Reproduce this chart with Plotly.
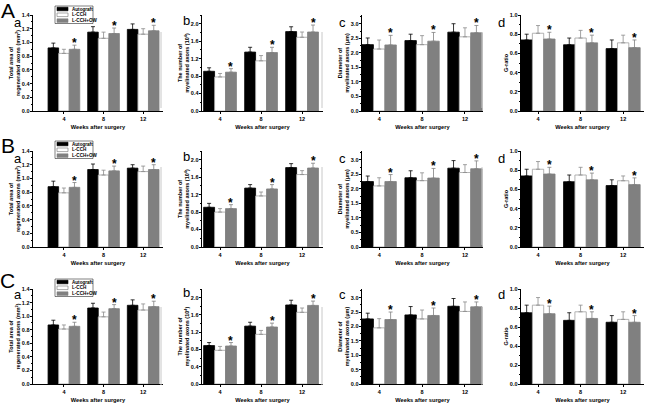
import plotly.graph_objects as go

W, H = 647, 405

weeks = ["4", "8", "12"]
groups = ["Autograft", "L-CCH", "L-CCH+OW"]
row_labels = ["A", "B", "C"]
panel_labels = ["a", "b", "c", "d"]
y_titles = [
    "Total area of<br>regenerated axons (mm<sup>2</sup>)",
    "The number of<br>myelinated axons (10<sup>4</sup>)",
    "Diameter of<br>myelinated axons (μm)",
    "G-ratio",
]
x_title = "Weeks after surgery"

# ---- Row A ---- (each list: [Autograft], [L-CCH], [L-CCH+OW] over weeks 4, 8, 12)
A_area_mean = [[0.92, 1.15, 1.19], [0.84, 1.06, 1.12], [0.90, 1.13, 1.17]]
A_area_err = [[0.07, 0.08, 0.08], [0.06, 0.09, 0.08], [0.06, 0.08, 0.08]]
A_num_mean = [[0.91, 1.35, 1.82], [0.78, 1.15, 1.69], [0.89, 1.34, 1.81]]
A_num_err = [[0.08, 0.11, 0.11], [0.08, 0.12, 0.12], [0.08, 0.12, 0.16]]
A_diam_mean = [[2.28, 2.42, 2.71], [2.13, 2.28, 2.55], [2.27, 2.40, 2.69]]
A_diam_err = [[0.23, 0.22, 0.29], [0.31, 0.31, 0.31], [0.33, 0.30, 0.25]]
A_g_mean = [[0.74, 0.69, 0.65], [0.81, 0.76, 0.71], [0.75, 0.71, 0.66]]
A_g_err = [[0.06, 0.07, 0.09], [0.08, 0.08, 0.08], [0.07, 0.08, 0.08]]

# ---- Row B ----
B_area_mean = [[0.88, 1.13, 1.15], [0.79, 1.05, 1.10], [0.87, 1.11, 1.13]]
B_area_err = [[0.08, 0.08, 0.05], [0.07, 0.07, 0.08], [0.07, 0.07, 0.07]]
B_num_mean = [[0.91, 1.35, 1.82], [0.80, 1.17, 1.66], [0.88, 1.33, 1.81]]
B_num_err = [[0.09, 0.08, 0.09], [0.08, 0.09, 0.09], [0.09, 0.10, 0.11]]
B_diam_mean = [[2.25, 2.38, 2.71], [2.10, 2.28, 2.56], [2.25, 2.37, 2.69]]
B_diam_err = [[0.19, 0.24, 0.26], [0.28, 0.27, 0.27], [0.24, 0.33, 0.27]]
B_g_mean = [[0.74, 0.68, 0.64], [0.81, 0.75, 0.69], [0.76, 0.70, 0.65]]
B_g_err = [[0.07, 0.07, 0.06], [0.08, 0.08, 0.05], [0.07, 0.07, 0.07]]

# ---- Row C ----
C_area_mean = [[0.87, 1.12, 1.16], [0.81, 0.99, 1.09], [0.85, 1.11, 1.14]]
C_area_err = [[0.07, 0.07, 0.08], [0.06, 0.07, 0.09], [0.06, 0.06, 0.08]]
C_num_mean = [[0.89, 1.34, 1.83], [0.78, 1.15, 1.66], [0.88, 1.32, 1.82]]
C_num_err = [[0.07, 0.09, 0.11], [0.09, 0.09, 0.10], [0.08, 0.09, 0.10]]
C_diam_mean = [[2.26, 2.40, 2.70], [1.95, 2.26, 2.52], [2.24, 2.38, 2.68]]
C_diam_err = [[0.20, 0.29, 0.27], [0.32, 0.31, 0.33], [0.26, 0.26, 0.17]]
C_g_mean = [[0.75, 0.67, 0.65], [0.83, 0.76, 0.68], [0.74, 0.69, 0.65]]
C_g_err = [[0.08, 0.08, 0.07], [0.08, 0.07, 0.08], [0.08, 0.07, 0.07]]

rows = [
    [(A_area_mean, A_area_err), (A_num_mean, A_num_err), (A_diam_mean, A_diam_err), (A_g_mean, A_g_err)],
    [(B_area_mean, B_area_err), (B_num_mean, B_num_err), (B_diam_mean, B_diam_err), (B_g_mean, B_g_err)],
    [(C_area_mean, C_area_err), (C_num_mean, C_num_err), (C_diam_mean, C_diam_err), (C_g_mean, C_g_err)],
]

# ---- styling ----
FONT = "Liberation Sans, Arial, sans-serif"
fill_colors = ["#000000", "#ffffff", "#808080"]
line_colors = ["#000000", "#a0a0a0", "#808080"]
err_colors = ["#000000", "#8c8c8c", "#808080"]

x_dom_px = [(33, 163), (202, 323), (362, 483), (521, 644)]
y_dom_px = [(15, 111), (151, 247), (289, 384)]
x_ranges = [[-0.78, 2.5], [-0.44, 2.51], [-0.40, 2.42], [-0.40, 2.49]]
y_ranges = [[0, 1.4], [0, 2.2], [0, 3.3], [0, 1.0]]
y_dticks = [0.2, 0.4, 0.5, 0.2]
BARGAP = 0.2


def px_x(v):
    return v / W


def px_y(v):
    return 1 - v / H


fig = go.Figure()
annotations = []
shapes = []

for r in range(3):
    for p in range(4):
        idx = r * 4 + p + 1
        xa = "x" if idx == 1 else f"x{idx}"
        ya = "y" if idx == 1 else f"y{idx}"
        means, errs = rows[r][p]
        for g in range(3):
            fig.add_trace(go.Bar(
                x=weeks, y=means[g], name=groups[g],
                marker=dict(color=fill_colors[g], line=dict(color=line_colors[g], width=0.8)),
                error_y=dict(type="data", array=errs[g], arrayminus=[0] * len(weeks),
                             symmetric=False, color=err_colors[g], thickness=0.8, width=2),
                xaxis=xa, yaxis=ya, showlegend=False,
            ))
        # significance stars above L-CCH+OW bars
        gw = (1 - BARGAP) / 3
        for i in range(len(weeks)):
            annotations.append(dict(
                x=i + gw, y=means[2][i] + errs[2][i], xref=xa, yref=ya,
                text="*", showarrow=False, yanchor="middle", yshift=2,
                font=dict(family=FONT, size=12, color="black", weight="bold"),
            ))
        xd = x_dom_px[p]
        yd = y_dom_px[r]
        xkey = "xaxis" if idx == 1 else f"xaxis{idx}"
        ykey = "yaxis" if idx == 1 else f"yaxis{idx}"
        fig.layout[xkey] = dict(
            domain=[px_x(xd[0]), px_x(xd[1])], anchor=ya, type="category",
            range=x_ranges[p], autorange=False, automargin=False,
            showline=True, linecolor="black", linewidth=0.8,
            ticks="outside", ticklen=2, tickwidth=0.8, tickcolor="black",
            tickfont=dict(family=FONT, size=5.5, color="black", weight="bold"),
            title=dict(text=x_title, standoff=4,
                       font=dict(family=FONT, size=5.7, color="black", weight="bold")),
            showgrid=False, zeroline=False, fixedrange=True,
        )
        fig.layout[ykey] = dict(
            domain=[px_y(yd[1]), px_y(yd[0])], anchor=xa,
            range=y_ranges[p], autorange=False, automargin=False,
            dtick=y_dticks[p], tick0=0, tickformat=".1f",
            showline=True, linecolor="black", linewidth=0.8,
            ticks="outside", ticklen=2.5, tickwidth=0.8, tickcolor="black",
            ticklabelstandoff=-1,
            minor=dict(ticks="outside", ticklen=1.5, dtick=y_dticks[p] / 2, tickcolor="black", tickwidth=0.6),
            tickfont=dict(family=FONT, size=5.5, color="black", weight="bold"),
            title=dict(text=y_titles[p], standoff=0,
                       font=dict(family=FONT, size=5.5, color="black", weight="bold")),
            showgrid=False, zeroline=False, fixedrange=True,
        )
        # panel letter
        letter_pos = [(18, 22), (187, 20), (342, 22), (501, 22)][p]
        dy = [0, 136, 272][r]
        annotations.append(dict(
            x=px_x(letter_pos[0]), y=px_y(letter_pos[1] + dy), xref="paper", yref="paper",
            text=panel_labels[p], showarrow=False, xanchor="center", yanchor="middle",
            font=dict(family=FONT, size=13, color="black"),
        ))

# row letters
for r, ly in enumerate([10, 145, 280]):
    annotations.append(dict(
        x=px_x(7.5), y=px_y(ly), xref="paper", yref="paper", text=row_labels[r],
        showarrow=False, xanchor="center", yanchor="middle",
        font=dict(family=FONT, size=21, color="black"),
    ))

# legends (one per row, in panel a)
for r, top in enumerate([6, 141, 279]):
    shapes.append(dict(type="rect", xref="paper", yref="paper",
                       x0=px_x(55), x1=px_x(93), y0=px_y(top + 17.5), y1=px_y(top),
                       line=dict(color="black", width=0.5), fillcolor="white"))
    for g in range(3):
        cy = top + 3 + g * 5.8
        shapes.append(dict(type="rect", xref="paper", yref="paper",
                           x0=px_x(57), x1=px_x(68), y0=px_y(cy + 1.8), y1=px_y(cy - 1.8),
                           line=dict(color=line_colors[g] if g != 1 else "#707070", width=0.6),
                           fillcolor=fill_colors[g]))
        annotations.append(dict(
            x=px_x(69.5), y=px_y(cy), xref="paper", yref="paper", text=groups[g],
            showarrow=False, xanchor="left", yanchor="middle",
            font=dict(family=FONT, size=4.6, color="black", weight="bold"),
        ))

# faint border lines between image panels
for r, (y0, y1) in enumerate([(32, 108), (167, 245), (307, 385)]):
    for xx in [161, 322, 482]:
        shapes.append(dict(type="line", xref="paper", yref="paper",
                           x0=px_x(xx), x1=px_x(xx), y0=px_y(y0), y1=px_y(y1),
                           line=dict(color="#c8c8c8", width=1)))

fig.update_layout(
    template="none",
    width=W, height=H, margin=dict(l=0, r=0, t=0, b=0, pad=0, autoexpand=False),
    paper_bgcolor="white", plot_bgcolor="white",
    barmode="group", bargap=BARGAP, bargroupgap=0,
    showlegend=False, annotations=annotations, shapes=shapes,
    font=dict(family=FONT, color="black"),
)

# remove the browser's default 8px body margin so the 647x405 figure fills the window
fig.write_html("out.html", config={"displayModeBar": False},
               post_script="document.body.style.margin='0';document.body.style.overflow='hidden';")
